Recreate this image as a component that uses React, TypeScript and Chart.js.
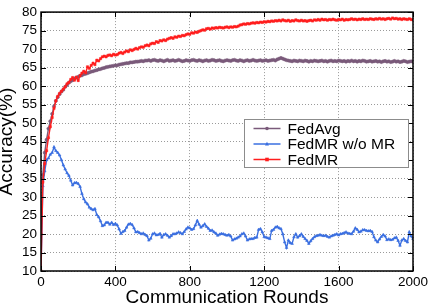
import React, { useEffect, useRef } from 'react';
import { Chart, registerables } from 'chart.js';

Chart.register(...registerables);

const FONT = '"Liberation Sans", Arial, Helvetica, sans-serif';

const X_MIN = 0;
const X_MAX = 2000;
const X_STEP = 400;
const Y_MIN = 10;
const Y_MAX = 80;
const Y_STEP = 5;
const ROUND_STEP = 10;

const X_TITLE = 'Communication Rounds';
const Y_TITLE = 'Accuracy(%)';

const SERIES_NAMES = ['FedAvg', 'FedMR w/o MR', 'FedMR'];
const SERIES_COLORS = ['#7a5a7a', '#3a6fe0', '#ff1e1e'];
const SERIES_MARKERS = ['circle', 'triangle', 'rect'];

// accuracy every 10 rounds, round 0 .. 2000
const FEDAVG = [
  20, 36, 42, 45.5, 48.5, 50.5, 52.5, 54.5, 56, 57,
  57.8, 58.5, 59, 59.8, 60.3, 60.9, 61.3, 61.6, 62, 62.3,
  62.5, 62.8, 62.9, 63.2, 63.3, 63.5, 63.7, 63.9, 64, 64.2,
  64.3, 64.5, 64.6, 64.8, 64.9, 65.1, 65.2, 65.3, 65.4, 65.5,
  65.6, 65.6, 65.8, 65.9, 66, 66.1, 66.2, 66.2, 66.4, 66.4,
  66.5, 66.6, 66.6, 66.7, 66.8, 66.7, 66.9, 66.9, 67, 66.8,
  67, 67.1, 66.9, 66.8, 67, 66.9, 66.7, 66.9, 67.1, 66.8,
  66.9, 67, 66.8, 66.9, 67.1, 66.9, 66.7, 66.8, 67, 66.9,
  66.8, 67, 67.1, 66.9, 66.8, 67, 66.9, 66.7, 66.9, 67,
  66.8, 66.9, 67.1, 67, 66.8, 66.9, 67, 66.8, 66.7, 66.9,
  67, 66.9, 66.8, 67, 67.1, 66.9, 66.8, 67, 66.9, 66.7,
  66.9, 67, 66.8, 66.9, 67.1, 66.9, 66.8, 66.9, 67, 66.8,
  66.9, 67, 66.8, 66.9, 67, 67.1, 66.9, 67.2, 67.4, 67.6,
  67.4, 67.2, 67, 66.9, 66.8, 66.7, 66.9, 66.8, 66.7, 66.9,
  66.8, 66.7, 66.9, 66.8, 66.6, 66.8, 66.7, 66.9, 66.8, 66.7,
  66.8, 66.9, 66.7, 66.8, 66.6, 66.8, 66.9, 66.7, 66.8, 66.7,
  66.9, 66.8, 66.7, 66.8, 66.6, 66.8, 66.7, 66.9, 66.7, 66.8,
  66.6, 66.8, 66.7, 66.9, 66.8, 66.6, 66.7, 66.8, 66.6, 66.7,
  66.8, 66.6, 66.7, 66.5, 66.7, 66.8, 66.6, 66.7, 66.5, 66.6,
  66.8, 66.6, 66.7, 66.5, 66.6, 66.8, 66.7, 66.5, 66.6, 66.7,
  66.6,
];

const FEDMR_WO_MR = [
  10, 33, 37, 40, 40.5, 41.5, 42, 43.5, 42.5, 42,
  41.3, 40, 38.6, 37.5, 36.5, 35.8, 34.5, 33.2, 33.8, 33.9,
  33.6, 32.8, 30.9, 29.5, 28.6, 28.1, 27.2, 26.8, 26.5, 26.8,
  25.2, 24.6, 23.5, 22.2, 22.4, 23.1, 23.1, 22.6, 23.1, 22.5,
  22.8, 22.4, 21.3, 20.1, 20.6, 20.9, 21.8, 22.6, 22.8, 22.5,
  21.6, 20.5, 20.6, 20.3, 20, 20.2, 19.8, 19.5, 18.3, 18.8,
  20, 20.2, 19.7, 19.8, 20.1, 19.1, 19.8, 20, 19.6, 19.1,
  19.5, 20, 20, 20.2, 20.5, 20.3, 20, 20.6, 21.3, 21.8,
  21.6, 21.2, 21.4, 22.4, 23.6, 22.6, 21.8, 22.2, 22.7, 22,
  21.5, 20.9, 21, 20.5, 20.2, 19.6, 19.9, 20.1, 20, 19.8,
  19.6, 19.8, 19.4, 18.3, 18.6, 18.8, 19.1, 19.4, 20, 20.2,
  19.4, 18.3, 18.6, 18.7, 18.7, 19, 19.1, 21.2, 21.4, 20.5,
  19.2, 19.1, 18.9, 18.7, 20.9, 21.2, 21.8, 22, 21.6, 21.4,
  20, 17.8, 16.3, 18.3, 17.6, 17.4, 19.2, 20, 19.1, 19.5,
  20, 19.3, 18.7, 18.2, 17.4, 18.1, 18.7, 19.2, 19.5, 19.6,
  19.8, 19.6, 19.5, 19.6, 19.3, 19.1, 19.4, 19.6, 19.8, 20,
  19.7, 20, 20.1, 20.3, 20.5, 20.2, 20.1, 20, 20.7, 21.6,
  21.2, 20.5, 20.7, 21.1, 21.1, 20.9, 20.8, 20.9, 20.6, 19.2,
  18.3, 17.8, 18.6, 19.3, 19.8, 19.4, 18.4, 18.6, 18.4, 18.5,
  18.9, 19.1, 18.2, 16.9, 18.3, 18.7, 18.2, 17.8, 20.5, 19.4,
  18.7,
];

const FEDMR = [
  10, 34, 39, 42.5, 46, 49, 51.5, 54, 56, 57.2,
  58, 58.6, 59.2, 59.8, 60.6, 61, 61.8, 62.3, 61.6, 62.4,
  61.5, 62.8, 63.5, 64, 63.6, 65.2, 64.8, 65.6, 66.2, 65.8,
  67, 66.8, 67.4, 67.9, 68.1, 67.9, 68.3, 68.4, 68.2, 68.6,
  68.4, 68.5, 68.9, 69.1, 68.8, 69.2, 69.5, 69.3, 69.8, 69.6,
  69.9, 70.2, 70, 70.4, 70.6, 70.5, 70.9, 71.1, 70.9, 71.4,
  71.6, 71.5, 72, 71.8, 72.3, 72.2, 72.5, 72.3, 72.7, 72.9,
  73.1, 72.9, 73.3, 73.2, 73.5, 73.4, 73.7, 73.6, 73.9, 74.1,
  74, 74.4, 74.3, 74.6, 74.5, 74.8, 75, 75.2, 75.1, 75.5,
  75.6, 75.4, 75.7, 75.6, 75.8, 75.7, 75.9, 75.8, 75.7, 75.9,
  76, 75.8, 76, 75.9, 76.1, 76, 76.2, 76.5, 76.6, 76.8,
  76.7, 76.9, 76.8, 77, 77.1, 77, 77.2, 77.1, 77.3, 77.2,
  77.4, 77.3, 77.5, 77.4, 77.6, 77.5, 77.7, 77.6, 77.8, 77.6,
  77.9, 77.7, 77.6, 77.8, 77.5, 77.7, 77.6, 77.9, 77.7, 77.6,
  77.8, 77.6, 77.7, 77.5, 77.7, 77.8, 77.6, 77.9, 77.8, 78,
  77.8, 78.1, 77.9, 78, 77.8, 78, 77.9, 78.1, 77.9, 77.8,
  78, 77.9, 78.1, 77.8, 78, 77.9, 78, 78.2, 78, 78.1,
  77.9, 78.1, 78, 78.2, 78, 78.1, 78, 78.2, 78.1, 78,
  78.2, 78.1, 78.3, 78.1, 78.2, 78, 78.2, 78.3, 78.1, 78.4,
  78.2, 78.3, 78.1, 78.2, 78, 78.2, 78.1, 78, 78.2, 78,
  77.9,
];

const SERIES_VALUES = [FEDAVG, FEDMR_WO_MR, FEDMR];
const ROUNDS = FEDMR.map((_, i) => i * ROUND_STEP);

function drawMarker(ctx: CanvasRenderingContext2D, style: string, x: number, y: number, r: number) {
  ctx.beginPath();
  if (style === 'circle') {
    ctx.arc(x, y, r, 0, Math.PI * 2);
  } else if (style === 'triangle') {
    ctx.moveTo(x, y - r * 1.2);
    ctx.lineTo(x + r * 1.1, y + r * 0.8);
    ctx.lineTo(x - r * 1.1, y + r * 0.8);
    ctx.closePath();
  } else {
    ctx.rect(x - r, y - r, r * 2, r * 2);
  }
  ctx.fill();
}

const framePlugin = {
  id: 'frameAndLegend',
  afterDraw(chart: any) {
    const { ctx, chartArea: ca, scales } = chart;
    const xs = scales.x;
    const ys = scales.y;
    ctx.save();
    ctx.strokeStyle = '#000';
    ctx.lineWidth = 1;
    ctx.beginPath();
    ys.ticks.forEach((t: any) => {
      const p = Math.round(ys.getPixelForValue(t.value)) + 0.5;
      ctx.moveTo(ca.left, p);
      ctx.lineTo(ca.left + 5, p);
      ctx.moveTo(ca.right, p);
      ctx.lineTo(ca.right - 5, p);
    });
    xs.ticks.forEach((t: any) => {
      const p = Math.round(xs.getPixelForValue(t.value)) + 0.5;
      ctx.moveTo(p, ca.bottom);
      ctx.lineTo(p, ca.bottom - 5);
      ctx.moveTo(p, ca.top);
      ctx.lineTo(p, ca.top + 5);
    });
    ctx.stroke();
    ctx.lineWidth = 1.5;
    ctx.strokeRect(ca.left, ca.top, ca.right - ca.left, ca.bottom - ca.top);

    // legend box
    const bw = 164;
    const bh = 48;
    const bx = Math.round(ca.right - 169) + 0.5;
    const by = Math.round(ca.top + 107) + 0.5;
    ctx.fillStyle = '#fff';
    ctx.fillRect(bx, by, bw, bh);
    ctx.strokeStyle = '#8c8c8c';
    ctx.lineWidth = 1;
    ctx.strokeRect(bx, by, bw, bh);
    ctx.font = `15.5px ${FONT}`;
    ctx.textBaseline = 'middle';
    ctx.textAlign = 'left';
    SERIES_NAMES.forEach((name, i) => {
      const cy = by + 9 + i * 15.5;
      ctx.strokeStyle = SERIES_COLORS[i];
      ctx.fillStyle = SERIES_COLORS[i];
      ctx.lineWidth = 1.5;
      ctx.beginPath();
      ctx.moveTo(bx + 9, cy);
      ctx.lineTo(bx + 36, cy);
      ctx.stroke();
      drawMarker(ctx, SERIES_MARKERS[i], bx + 22.5, cy, 1.8);
      ctx.fillStyle = '#000';
      ctx.fillText(name, bx + 43, cy + 1);
    });
    ctx.restore();
  },
};

export default function App() {
  const ref = useRef<HTMLCanvasElement | null>(null);

  useEffect(() => {
    if (!ref.current) return;
    const datasets = SERIES_NAMES.map((name, i) => ({
      label: name,
      data: ROUNDS.map((r, j) => ({ x: r, y: SERIES_VALUES[i][j] })),
      borderColor: SERIES_COLORS[i],
      backgroundColor: SERIES_COLORS[i],
      borderWidth: 1.4,
      pointStyle: SERIES_MARKERS[i] as any,
      pointRadius: 1.6,
      pointBorderWidth: 0.5,
      pointBackgroundColor: SERIES_COLORS[i],
      pointBorderColor: SERIES_COLORS[i],
      tension: 0,
      fill: false,
      order: i === 2 ? 0 : i === 0 ? 1 : 2,
    }));
    const chart = new Chart(ref.current, {
      type: 'line',
      data: { datasets },
      options: {
        animation: false,
        responsive: false,
        maintainAspectRatio: false,
        devicePixelRatio: 1,
        layout: { padding: { top: 8, right: 19, left: 0, bottom: 0 } },
        plugins: { legend: { display: false }, tooltip: { enabled: false } },
        scales: {
          x: {
            type: 'linear',
            min: X_MIN,
            max: X_MAX,
            afterFit: (s: any) => { s.height = 33; },
            ticks: {
              stepSize: X_STEP,
              autoSkip: false,
              color: '#000',
              padding: 3,
              maxRotation: 0,
              font: { family: FONT, size: 13.5 },
              callback: (v: any) => String(v),
            },
            grid: { color: '#9a9a9a', lineWidth: 1, drawTicks: false },
            border: { display: false, dash: [1, 2] },
            title: {
              display: true,
              text: X_TITLE,
              color: '#000',
              padding: 0,
              font: { family: FONT, size: 19, lineHeight: 0.7 },
            },
          },
          y: {
            type: 'linear',
            min: Y_MIN,
            max: Y_MAX,
            afterFit: (s: any) => { s.width = 41; },
            ticks: {
              stepSize: Y_STEP,
              autoSkip: false,
              color: '#000',
              padding: 4,
              font: { family: FONT, size: 13.5 },
              callback: (v: any) => String(v),
            },
            grid: { color: '#9a9a9a', lineWidth: 1, drawTicks: false },
            border: { display: false, dash: [1, 2] },
            title: {
              display: true,
              text: Y_TITLE,
              color: '#000',
              padding: 0,
              font: { family: FONT, size: 19, lineHeight: 0.684 },
            },
          },
        },
      },
      plugins: [framePlugin],
    });
    return () => chart.destroy();
  }, []);

  return (
    <div style={{ position: 'fixed', left: 0, top: 0, width: 432, height: 304, background: '#fff' }}>
      <canvas ref={ref} width={432} height={304} style={{ width: 432, height: 304, display: 'block' }} />
    </div>
  );
}
